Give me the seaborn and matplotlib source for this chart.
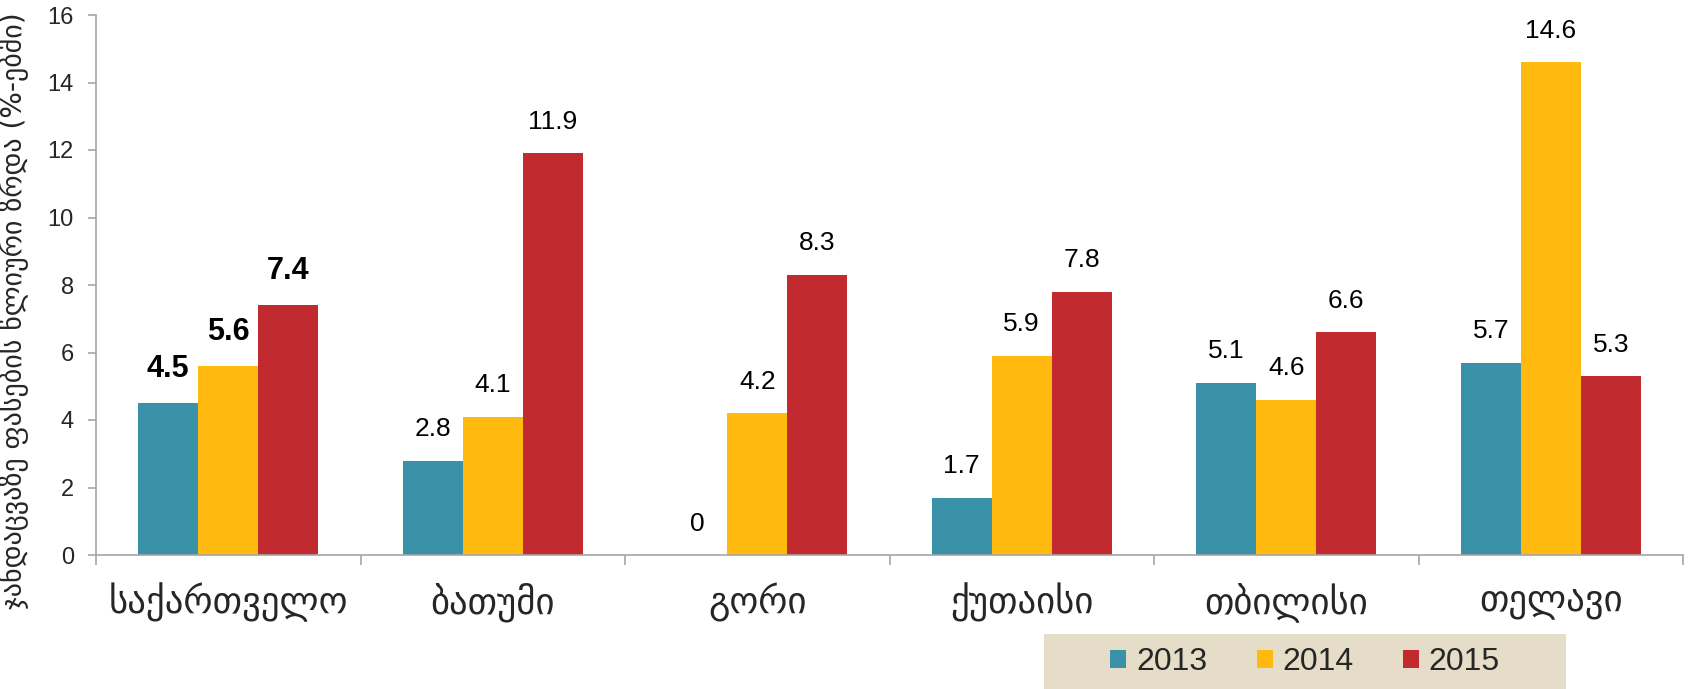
import matplotlib
matplotlib.use("Agg")
import matplotlib.pyplot as plt
from matplotlib.patches import Rectangle, Patch
import seaborn as sns
import pandas as pd

regions = ["საქართველო", "ბათუმი", "გორი", "ქუთაისი", "თბილისი", "თელავი"]
years = ["2013", "2014", "2015"]
v2013 = [4.5, 2.8, 0.0, 1.7, 5.1, 5.7]
v2014 = [5.6, 4.1, 4.2, 5.9, 4.6, 14.6]
v2015 = [7.4, 11.9, 8.3, 7.8, 6.6, 5.3]
colors = ["#3A92A8", "#FFB90F", "#C12A2F"]
ylabel = "ჯანდაცვაზე ფასების წლიური ზრდა (%-ებში)"

rows = []
for yr, vals in zip(years, [v2013, v2014, v2015]):
    for r, v in zip(regions, vals):
        rows.append({"region": r, "year": yr, "value": v})
df = pd.DataFrame(rows)

sns.set_theme(style="white")
plt.rcParams["font.family"] = ["DejaVu Sans"]

fig = plt.figure(figsize=(17.05, 6.89), dpi=100)
ax = fig.add_axes([96 / 1705, 1 - 555 / 689, (1683 - 96) / 1705, (555 - 15) / 689])

sns.barplot(data=df, x="region", y="value", hue="year", order=regions,
            hue_order=years, palette=colors, width=0.68, saturation=1,
            linewidth=0, ax=ax, legend=False)

ax.set_ylim(0, 16)
ax.set_xlim(-0.5, len(regions) - 0.5)
ax.set_yticks(range(0, 17, 2))
ax.set_xlabel("")
ax.set_ylabel(ylabel, fontsize=20.2)
ax.yaxis.set_label_coords(-0.042, 0.452)

for sp in ["top", "right"]:
    ax.spines[sp].set_visible(False)
for sp in ["left", "bottom"]:
    ax.spines[sp].set_color("#A6A6A6")
    ax.spines[sp].set_linewidth(1.2)

ax.tick_params(axis="y", which="major", left=True, length=6, width=1.2,
               color="#A6A6A6", labelsize=17, pad=10)
for t in ax.get_yticklabels():
    t.set_fontfamily("Liberation Sans")

ax.set_xticks(range(len(regions)))
ax.set_xticklabels(regions, fontsize=26.5)
ax.tick_params(axis="x", which="major", bottom=False, length=0, pad=20)
ax.set_xticks([i - 0.5 for i in range(len(regions) + 1)], minor=True)
ax.tick_params(axis="x", which="minor", bottom=True, length=7, width=1.2,
               color="#A6A6A6", direction="out")

for ci, cont in enumerate(ax.containers):
    vals = [v2013, v2014, v2015][ci]
    texts = ax.bar_label(cont, labels=[f"{v:g}" for v in vals], padding=14,
                         fontsize=19, fontfamily="Liberation Sans", color="black")
    texts[0].set_fontsize(22)
    texts[0].set_fontweight("bold")

# legend box
bx0, bx1 = 1044, 1566
fig.patches.append(Rectangle((bx0 / 1705, 0), (bx1 - bx0) / 1705, 55 / 689,
                             transform=fig.transFigure, facecolor="#E5DDC8",
                             edgecolor="none", zorder=0))
handles = [Patch(facecolor=c, edgecolor="none") for c in colors]
fig.legend(handles, years, loc="center", ncol=3, frameon=False,
           bbox_to_anchor=((bx0 + bx1) / 2 / 1705, (689 - 662) / 689),
           prop={"family": "Liberation Sans", "size": 23},
           handlelength=0.5, handleheight=0.5, handletextpad=0.3,
           columnspacing=1.55, borderpad=0)

fig.savefig("out.png", dpi=100)
